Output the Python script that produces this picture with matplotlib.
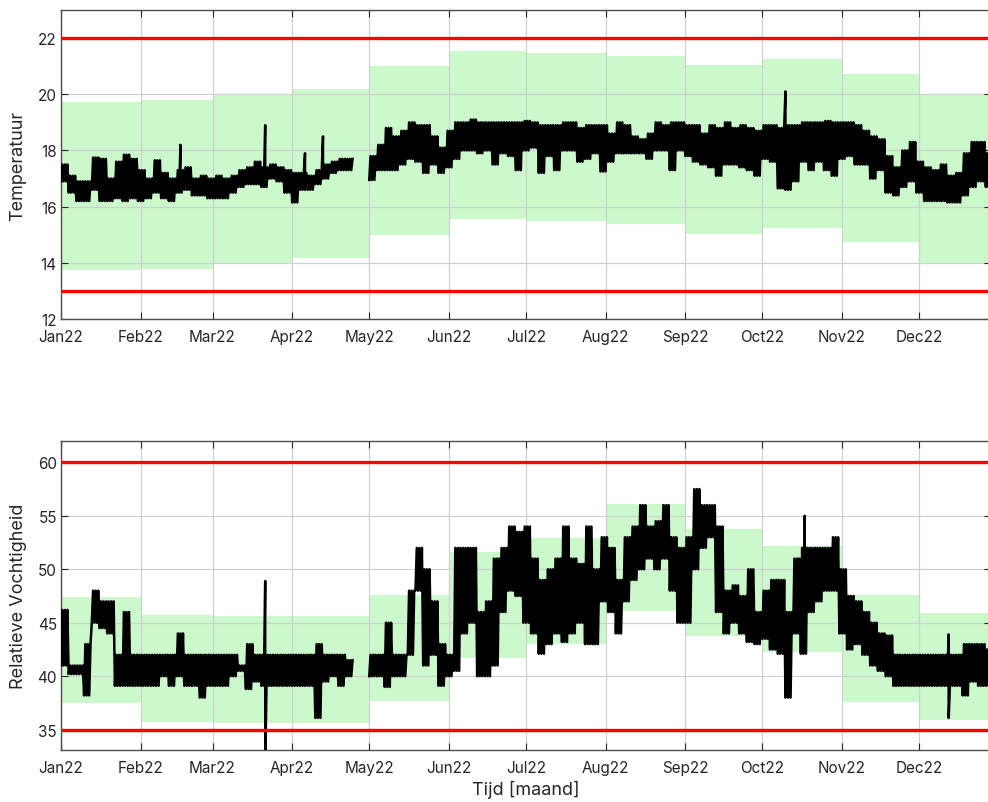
import numpy as np
import matplotlib
matplotlib.use("Agg")
import matplotlib.pyplot as plt
import matplotlib.dates as mdates

plt.rcParams['font.family'] = ['Inter', 'DejaVu Sans']

# month edges for the comfort bands (Jan 1 .. Jan 1 next year)
month_edges = np.arange('2022-01', '2023-02', dtype='datetime64[M]').astype('datetime64[D]')

# comfort band per month
temp_band_lo = [13.74, 13.78, 13.96, 14.18, 15.0, 15.56, 15.48, 15.37, 15.04, 15.24, 14.73, 13.98]
temp_band_hi = [19.74, 19.78, 19.98, 20.19, 21.0, 21.55, 21.48, 21.36, 21.04, 21.24, 20.71, 19.99]
rh_band_lo = [37.46, 35.72, 35.62, 35.65, 37.68, 41.69, 43.0, 46.1, 43.8, 42.25, 37.61, 35.93]
rh_band_hi = [47.45, 45.68, 45.59, 45.65, 47.64, 51.6, 52.93, 56.08, 53.8, 52.19, 47.58, 45.9]

# limits
temp_limits = [13, 22]
rh_limits = [35, 60]

# measured temperature, min/max per 3-day block from 1 Jan (nan = no data)
nan = np.nan
temp_lo = [16.9, 16.5, 16.2, 16.2, 16.6, 16.2, 16.2, 16.3, 16.2, 16.3,
           16.2, 16.3, 16.5, 16.3, 16.2, 16.5, 16.6, 16.4, 16.4, 16.3,
           16.3, 16.3, 16.5, 16.7, 16.8, 16.8, 16.7, 17.0, 16.9, 16.5,
           16.15, 16.6, 16.6, 16.8, 17.0, 17.2, 17.3, 17.3, nan, nan,
           16.95, 17.3, 17.3, 17.3, 17.5, 17.7, 17.6, 17.2, 17.5, 17.2,
           17.4, 17.7, 18.0, 18.0, 17.9, 18.0, 17.5, 17.9, 17.8, 17.3,
           18.0, 18.1, 17.2, 17.8, 17.3, 18.0, 18.0, 17.6, 17.7, 17.9,
           17.25, 17.6, 17.9, 17.9, 17.9, 17.9, 17.7, 18.0, 18.0, 17.3,
           18.0, 17.8, 17.6, 17.5, 17.4, 17.1, 17.5, 17.5, 17.4, 17.3,
           17.1, 17.7, 17.6, 16.65, 16.6, 16.9, 17.6, 17.3, 17.6, 17.3,
           17.1, 17.7, 17.8, 17.5, 17.5, 17.0, 17.3, 16.5, 16.4, 16.7,
           16.9, 16.5, 16.2, 16.2, 16.2, 16.15, 16.15, 16.4, 16.7, 16.9,
           16.7]
temp_hi = [17.5, 17.1, 16.9, 16.9, 17.75, 17.7, 17.0, 17.6, 17.85, 17.7,
           17.3, 17.0, 17.65, 17.2, 17.0, 17.3, 17.4, 17.0, 17.1, 17.0,
           17.1, 17.0, 17.1, 17.3, 17.4, 17.6, 17.4, 17.5, 17.4, 17.3,
           17.2, 17.2, 17.1, 17.3, 17.5, 17.6, 17.7, 17.7, nan, nan,
           17.8, 18.2, 18.8, 18.5, 18.7, 19.0, 18.9, 18.9, 18.5, 18.1,
           18.7, 19.0, 19.0, 19.1, 19.0, 19.0, 19.0, 19.0, 19.0, 19.0,
           19.05, 19.0, 18.9, 18.9, 18.9, 19.0, 19.0, 18.8, 18.9, 18.9,
           18.9, 18.6, 19.0, 18.9, 18.5, 18.4, 18.6, 19.0, 18.9, 19.0,
           19.0, 18.9, 18.9, 18.6, 18.9, 18.8, 19.0, 18.8, 18.9, 18.8,
           18.7, 18.9, 18.9, 18.8, 18.9, 18.9, 19.0, 19.0, 19.0, 19.05,
           19.0, 19.0, 19.0, 18.9, 18.7, 18.5, 18.4, 17.8, 17.4, 18.0,
           18.3, 17.6, 17.4, 17.3, 17.5, 17.1, 17.2, 17.9, 18.3, 18.3,
           17.9]
temp_spike_day = [46.5, 79.5, 95.0, 102.0, 282.0]
temp_spike_val = [18.2, 18.9, 17.9, 18.5, 20.1]

# measured relative humidity, min/max per 3-day block from 1 Jan
rh_lo = [41.0, 40.2, 40.2, 38.2, 45.0, 44.5, 44.0, 39.1, 39.1, 39.1,
         39.1, 39.1, 39.1, 40.0, 39.1, 40.0, 39.1, 39.1, 38.0, 39.1,
         39.1, 39.1, 40.0, 40.5, 38.8, 39.5, 39.1, 39.1, 39.1, 39.1,
         39.1, 39.1, 39.1, 36.1, 39.5, 40.0, 39.1, 40.0, nan, nan,
         40.0, 40.0, 39.0, 40.0, 40.0, 42.0, 48.0, 41.0, 42.0, 39.1,
         40.0, 40.5, 44.0, 45.0, 40.0, 40.0, 41.0, 46.0, 48.0, 47.5,
         45.0, 44.0, 42.1, 43.0, 44.0, 43.2, 44.0, 45.0, 43.0, 43.0,
         47.0, 46.0, 44.0, 47.0, 49.0, 50.0, 51.0, 50.0, 51.0, 48.0,
         45.0, 45.0, 50.0, 52.0, 53.0, 46.0, 44.0, 45.0, 44.0, 43.2,
         43.0, 43.5, 42.5, 42.1, 38.0, 44.0, 42.1, 46.0, 47.0, 48.0,
         48.0, 44.0, 42.5, 43.0, 42.0, 41.0, 40.5, 40.0, 39.1, 39.1,
         39.1, 39.1, 39.1, 39.1, 39.1, 39.1, 39.1, 38.2, 39.5, 39.1,
         39.1]
rh_hi = [46.2, 41.0, 41.0, 43.0, 48.0, 47.0, 47.0, 42.0, 46.0, 42.0,
         42.0, 42.0, 42.0, 42.0, 42.0, 44.0, 42.0, 42.0, 42.0, 42.0,
         42.0, 42.0, 42.0, 41.0, 43.0, 42.0, 42.0, 42.0, 42.0, 42.0,
         42.0, 42.0, 42.0, 43.0, 42.0, 42.0, 42.0, 41.5, nan, nan,
         42.0, 42.0, 45.0, 42.0, 42.0, 48.0, 52.0, 50.0, 47.0, 43.0,
         42.0, 52.0, 52.0, 52.0, 46.0, 47.0, 51.0, 52.0, 54.0, 53.5,
         54.0, 51.0, 49.0, 50.0, 51.0, 54.0, 51.0, 50.5, 54.0, 50.0,
         53.0, 52.0, 49.0, 53.0, 54.0, 56.0, 54.0, 54.5, 56.0, 53.0,
         52.0, 53.0, 57.5, 56.0, 56.0, 54.0, 48.0, 48.5, 47.5, 50.0,
         46.0, 48.0, 49.0, 49.0, 46.0, 51.0, 52.0, 52.0, 52.0, 52.0,
         53.0, 50.0, 47.5, 47.0, 46.0, 45.0, 44.0, 43.8, 42.0, 42.0,
         42.0, 42.0, 42.0, 42.0, 42.0, 42.0, 42.0, 43.0, 43.0, 43.0,
         42.5]
rh_spike_day = [79.5, 79.55, 100.0, 126.5, 225.5, 236.5, 289.5, 345.5, 345.55]
rh_spike_val = [48.9, 32.0, 36.1, 45.0, 55.9, 55.9, 55.0, 43.9, 36.1]

start = np.datetime64('2022-01-01T00:00')


def build_trace(lo, hi, spike_day, spike_val, block=3, steps=6):
    # hourly-ish signal: swing between the block min and max
    days, vals = [], []
    for i, (a, b) in enumerate(zip(lo, hi)):
        for k in range(steps):
            days.append(i * block + k * block / steps)
            vals.append(a if k % 2 == 0 else b)
    days = np.array(days)
    vals = np.array(vals, dtype=float)
    for d, v in zip(spike_day, spike_val):
        j = np.searchsorted(days, d)
        days = np.insert(days, j, d)
        vals = np.insert(vals, j, v)
    t = start + (days * 1440).astype(int).astype('timedelta64[m]')
    return t, vals


def draw_panel(ax, band_lo, band_hi, limits, t, vals, yticks, ylim, ylabel):
    ax.fill_between(month_edges, band_lo + [band_lo[-1]], band_hi + [band_hi[-1]],
                    step='post', color='#ccf9cc', lw=0, zorder=1)
    for lim in limits:
        ax.axhline(lim, color='#ff0000', lw=2.4, zorder=4)
    ax.plot(t, vals, color='black', lw=1.8, zorder=3)
    ax.set_ylim(*ylim)
    ax.set_yticks(yticks)
    ax.set_xlim(start, start + np.timedelta64(362, 'D'))
    ax.xaxis.set_major_locator(mdates.MonthLocator())
    ax.xaxis.set_major_formatter(mdates.DateFormatter('%b%y'))
    ax.grid(True, color='#d0d0d0', lw=0.9)
    ax.tick_params(direction='in', top=True, right=True, length=5,
                   labelsize=11, colors='#262626', pad=3)
    ax.tick_params(axis='x', pad=7)
    for s in ax.spines.values():
        s.set_color('#4d4d4d')
        s.set_linewidth(1.0)
    ax.set_ylabel(ylabel, fontsize=13, color='#262626')
    ax.yaxis.set_label_coords(-0.037, 0.5)


fig = plt.figure(figsize=(9.88, 8.03), dpi=100)
ax1 = fig.add_axes([0.0617, 0.6015, 0.9413, 0.3848])
ax2 = fig.add_axes([0.0617, 0.0648, 0.9413, 0.3848])

t1, v1 = build_trace(temp_lo, temp_hi, temp_spike_day, temp_spike_val)
t2, v2 = build_trace(rh_lo, rh_hi, rh_spike_day, rh_spike_val)

draw_panel(ax1, temp_band_lo, temp_band_hi, temp_limits, t1, v1,
           [12, 14, 16, 18, 20, 22], (12, 23), 'Temperatuur')
draw_panel(ax2, rh_band_lo, rh_band_hi, rh_limits, t2, v2,
           [35, 40, 45, 50, 55, 60], (33.1, 62), 'Relatieve Vochtigheid')
ax2.set_xlabel('Tijd [maand]', fontsize=13, color='#262626', labelpad=4)

fig.savefig('out.png', dpi=100)
